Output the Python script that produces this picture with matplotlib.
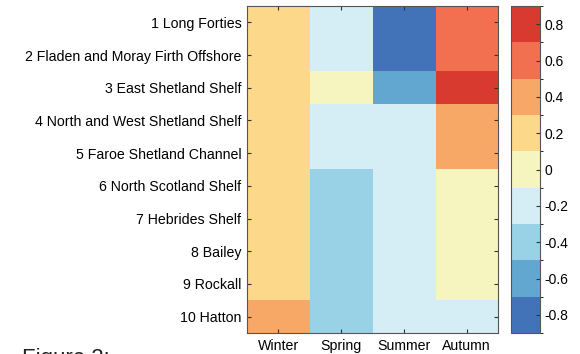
import matplotlib
matplotlib.use("Agg")
import matplotlib.pyplot as plt
import numpy as np
from matplotlib.colors import ListedColormap, BoundaryNorm

plt.rcParams["font.family"] = ["Liberation Sans", "DejaVu Sans"]

regions = [
    "1 Long Forties",
    "2 Fladen and Moray Firth Offshore",
    "3 East Shetland Shelf",
    "4 North and West Shetland Shelf",
    "5 Faroe Shetland Channel",
    "6 North Scotland Shelf",
    "7 Hebrides Shelf",
    "8 Bailey",
    "9 Rockall",
    "10 Hatton",
]
seasons = ["Winter", "Spring", "Summer", "Autumn"]

winter = [0.2, 0.2, 0.2, 0.2, 0.2, 0.2, 0.2, 0.2, 0.2, 0.4]
spring = [-0.2, -0.2, 0.0, -0.2, -0.2, -0.4, -0.4, -0.4, -0.4, -0.4]
summer = [-0.8, -0.8, -0.6, -0.2, -0.2, -0.2, -0.2, -0.2, -0.2, -0.2]
autumn = [0.6, 0.6, 0.8, 0.4, 0.4, 0.0, 0.0, 0.0, 0.0, -0.2]

colors = ["#4273b9", "#62a7d0", "#99d2e6", "#d5edf4", "#f6f5c0",
          "#fcd98a", "#f8a866", "#f27050", "#d93a2f"]
bounds = np.linspace(-0.9, 0.9, 10)
cbar_ticks = [-0.8, -0.6, -0.4, -0.2, 0, 0.2, 0.4, 0.6, 0.8]

data = np.column_stack([winter, spring, summer, autumn])
cmap = ListedColormap(colors)
norm = BoundaryNorm(bounds, cmap.N)

fig = plt.figure(figsize=(5.8, 3.54), dpi=100)
ax = fig.add_axes([247 / 580, 1 - 333 / 354, 251 / 580, 327 / 354])
cax = fig.add_axes([511 / 580, 1 - 333 / 354, 29 / 580, 327 / 354])

im = ax.imshow(data, cmap=cmap, norm=norm, aspect="auto", interpolation="nearest")
ax.set_xticks(range(len(seasons)))
ax.set_xticklabels(seasons, fontsize=10.2)
ax.set_yticks(range(len(regions)))
ax.set_yticklabels(regions, fontsize=10.2)
ax.tick_params(direction="in", top=True, right=True, length=3, color="#333333", pad=4)
for s in ax.spines.values():
    s.set_color("#555555")
    s.set_linewidth(0.8)

cb = fig.colorbar(im, cax=cax, ticks=cbar_ticks)
cb.ax.set_yticklabels(["-0.8", "-0.6", "-0.4", "-0.2", "0", "0.2", "0.4", "0.6", "0.8"])
cb.ax.tick_params(direction="in", length=3, labelsize=10, color="#333333")
cb.outline.set_edgecolor("#555555")
cb.outline.set_linewidth(0.8)

fig.text(22 / 580, 1 - 348 / 354, "Figure 2:", fontsize=16, va="top", ha="left", color="#222222")

fig.savefig("out.png", dpi=100)
